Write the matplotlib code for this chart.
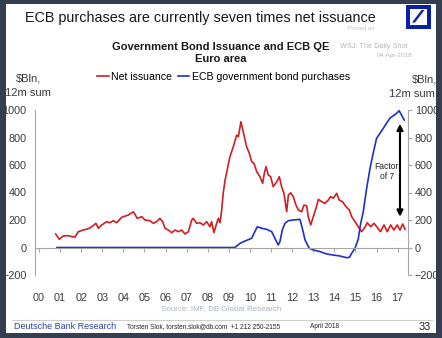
import matplotlib
matplotlib.use('Agg')
import matplotlib.pyplot as plt
from matplotlib.patches import Rectangle, Polygon

plt.rcParams['font.family'] = ['Liberation Sans', 'DejaVu Sans']

# Euro area, 12m sums in $bn, dated as decimal years
net_years = [2000.79, 2000.96, 2001.15, 2001.39, 2001.55, 2001.71, 2001.86, 2002.10,
             2002.34, 2002.50, 2002.70, 2002.81, 2002.97, 2003.21, 2003.36, 2003.52,
             2003.68, 2003.92, 2004.23, 2004.47, 2004.66, 2004.87, 2005.02, 2005.26,
             2005.42, 2005.58, 2005.73, 2005.86, 2005.97, 2006.13, 2006.29, 2006.45,
             2006.60, 2006.76, 2006.92, 2007.08, 2007.24, 2007.31, 2007.47, 2007.63,
             2007.79, 2007.95, 2008.10, 2008.18, 2008.29, 2008.42, 2008.50, 2008.58,
             2008.66, 2008.73, 2008.82, 2009.05, 2009.21, 2009.37, 2009.45, 2009.57,
             2009.68, 2009.84, 2009.97, 2010.08, 2010.19, 2010.32, 2010.47, 2010.60,
             2010.68, 2010.76, 2010.87, 2010.98, 2011.10, 2011.27, 2011.39, 2011.50,
             2011.61, 2011.74, 2011.82, 2011.93, 2012.05, 2012.18, 2012.29, 2012.45,
             2012.56, 2012.69, 2012.76, 2012.88, 2013.00, 2013.13, 2013.24, 2013.40,
             2013.55, 2013.71, 2013.82, 2013.95, 2014.11, 2014.23, 2014.39, 2014.55,
             2014.71, 2014.82, 2014.98, 2015.13, 2015.29, 2015.45, 2015.56, 2015.72,
             2015.88, 2016.03, 2016.19, 2016.35, 2016.51, 2016.67, 2016.82, 2016.98,
             2017.11, 2017.24, 2017.35]
net_issuance = [98, 60, 84, 86, 79, 76, 115, 127,
                137, 151, 176, 140, 164, 188, 180, 195,
                180, 220, 236, 260, 212, 224, 200, 195,
                176, 188, 212, 188, 140, 127, 108, 127,
                115, 127, 98, 115, 200, 212, 176, 180,
                164, 188, 151, 188, 108, 176, 212, 180,
                273, 394, 491, 660, 733, 818, 806, 915,
                842, 733, 685, 624, 612, 551, 515, 467,
                539, 588, 527, 515, 442, 478, 515, 442,
                394, 260, 382, 398, 370, 309, 273, 260,
                309, 302, 224, 164, 224, 285, 350, 333,
                321, 345, 370, 358, 394, 345, 333, 297,
                273, 224, 188, 151, 115, 147, 180, 151,
                176, 147, 115, 164, 115, 164, 127, 164,
                127, 171, 133]

ecb_years = [2000.85, 2009.28, 2009.53, 2009.76, 2010.08, 2010.19, 2010.35, 2010.55,
             2010.79, 2011.03, 2011.18, 2011.34, 2011.42, 2011.53, 2011.66, 2011.82,
             2012.05, 2012.37, 2012.50, 2012.61, 2012.81, 2013.00, 2013.32, 2013.63,
             2013.95, 2014.27, 2014.58, 2014.71, 2014.82, 2014.98, 2015.13, 2015.24,
             2015.37, 2015.53, 2015.69, 2015.84, 2016.00, 2016.16, 2016.32, 2016.47,
             2016.63, 2016.79, 2016.95, 2017.07, 2017.18, 2017.31]
ecb_purchases = [0, 0, 30, 47, 67, 103, 151, 140,
                 132, 115, 67, 18, 42, 127, 176, 195,
                 200, 205, 127, 55, -6, -18, -30, -47,
                 -55, -62, -74, -72, -42, -5, 60, 170,
                 260, 430, 576, 685, 794, 830, 867, 903,
                 940, 958, 976, 995, 964, 927]

year_ticks = list(range(2000, 2018))
year_labels = ['%02d' % (y - 2000) for y in year_ticks]
y_ticks = [-200, 0, 200, 400, 600, 800, 1000]

RED = '#d21d22'
BLUE = '#1f30c8'
FRAME = '#333f50'
AXIS_GREY = '#a6a6a6'
TEXT = '#3a3a3a'

W, H = 442, 338
fig = plt.figure(figsize=(W / 100, H / 100), dpi=100)
fig.patch.set_facecolor(FRAME)

# page background, headings and footer in pixel coordinates
bg = fig.add_axes([0, 0, 1, 1])
bg.set_xlim(0, W)
bg.set_ylim(H, 0)
bg.axis('off')
page = Rectangle((6, 4), 430, 329, facecolor='white', edgecolor='none')
bg.add_patch(page)

bg.text(25, 18, 'ECB purchases are currently seven times net issuance',
        fontsize=10.4, color='#1a1a1a', va='center', ha='left')

# Deutsche Bank logo
bg.add_patch(Rectangle((406, 4.5), 24.5, 24, facecolor='#0a1fa5', edgecolor='none'))
bg.add_patch(Rectangle((410, 8.5), 16.5, 16, facecolor='white', edgecolor='none'))
bg.add_patch(Polygon([(412, 22.5), (415, 22.5), (424.5, 10), (421.5, 10)],
                     closed=True, facecolor='#0a1fa5', edgecolor='none'))

bg.text(348, 28, 'Posted on', fontsize=4.2, color='#c4c4c4', va='center', ha='left')
bg.text(340, 46, 'WSJ: The Daily Shot', fontsize=5.3, color='#b8b8b8', va='center', ha='left')
bg.text(377, 55.5, '04-Apr-2018', fontsize=4.6, color='#b8b8b8', va='center', ha='left')

bg.text(221, 47, 'Government Bond Issuance and ECB QE', fontsize=8.0,
        fontweight='bold', color='#1a1a1a', va='center', ha='center')
bg.text(221, 59, 'Euro area', fontsize=8.0, fontweight='bold',
        color='#1a1a1a', va='center', ha='center')

# unit labels above both value axes
bg.text(28, 78.5, '$Bln,', fontsize=8, color=TEXT, va='center', ha='center')
bg.text(28, 93, '12m sum', fontsize=8, color=TEXT, va='center', ha='center')
bg.text(424, 80, '$Bln,', fontsize=8, color=TEXT, va='center', ha='center')
bg.text(435, 94, '12m sum', fontsize=8, color=TEXT, va='center', ha='right')

bg.text(221.5, 309, 'Source: IMF, DB Global Research', fontsize=5.8,
        color='#a9b1bd', va='center', ha='center')
bg.plot([12, 432], [320, 320], color='#cfcfcf', lw=0.8)
bg.text(14, 326.5, 'Deutsche Bank Research', fontsize=6.5, color='#2a44a6',
        va='center', ha='left')
bg.text(127, 327, 'Torsten Slok, torsten.slok@db.com  +1 212 250-2155',
        fontsize=4.7, color='#222222', va='center', ha='left')
bg.text(310, 327, 'April 2018', fontsize=4.7, color='#222222', va='center', ha='left')
bg.text(431, 326.5, '33', fontsize=7.8, color='#222222', va='center', ha='right')

# main chart
ax = fig.add_axes([35 / W, 1 - 275 / H, 373 / W, 165 / H])
ax.patch.set_visible(False)
ax.set_xlim(1999.81, 2017.49)
ax.set_ylim(-200, 1000)

net_line, = ax.plot(net_years, net_issuance, color=RED, lw=1.2, label='Net issuance')
ecb_line, = ax.plot(ecb_years, ecb_purchases, color=BLUE, lw=1.2,
                    label='ECB government bond purchases')

ax.spines['top'].set_visible(False)
ax.spines['right'].set_visible(False)
ax.spines['left'].set_color(AXIS_GREY)
ax.spines['bottom'].set_color(AXIS_GREY)
ax.spines['bottom'].set_position(('data', 0))

ax.set_xticks(year_ticks)
ax.set_xticklabels(year_labels)
ax.tick_params(axis='x', direction='out', length=3, color=AXIS_GREY,
               labelsize=7.8, labelcolor=TEXT, pad=29.5)
ax.set_yticks(y_ticks)
ax.tick_params(axis='y', length=0, labelsize=7.8, labelcolor=TEXT, pad=6)

ax2 = ax.twinx()
ax2.patch.set_visible(False)
ax2.set_ylim(-200, 1000)
for side in ['top', 'left', 'bottom']:
    ax2.spines[side].set_visible(False)
ax2.spines['right'].set_color(AXIS_GREY)
ax2.set_yticks(y_ticks)
ax2.tick_params(axis='y', direction='out', length=3, color=AXIS_GREY,
                labelsize=7.8, labelcolor=TEXT, pad=2)

ax.legend(handles=[net_line, ecb_line], ncol=2, frameon=False, fontsize=7.6,
          loc='center', bbox_to_anchor=(223.5 / W, 1 - 77 / H),
          bbox_transform=fig.transFigure, handlelength=1.1, handletextpad=0.25,
          columnspacing=0.5, borderaxespad=0, borderpad=0)

# gap between the two series
ax.annotate('', xy=(2017.11, 900), xytext=(2017.11, 224),
            arrowprops=dict(arrowstyle='<|-|>', color='black', lw=1.5,
                            mutation_scale=9, shrinkA=0, shrinkB=0))
ax.text(2016.49, 551, 'Factor\nof 7', fontsize=6.2, color='#222222',
        ha='center', va='center', linespacing=1.1)

fig.savefig('out.png', dpi=100, facecolor=fig.get_facecolor())
